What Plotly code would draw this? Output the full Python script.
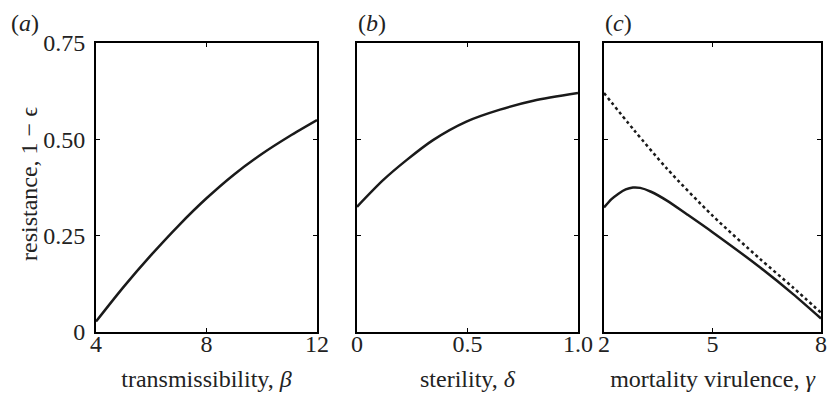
import plotly.graph_objects as go

# Panel (a): resistance vs transmissibility
beta = [4, 5, 6, 7, 8, 9, 10, 11, 12]
res_beta = [0.027, 0.117, 0.200, 0.277, 0.347, 0.409, 0.462, 0.508, 0.550]

# Panel (b): resistance vs sterility
delta = [0.0, 0.118, 0.224, 0.344, 0.495, 0.647, 0.798, 1.0]
res_delta = [0.325, 0.394, 0.446, 0.498, 0.546, 0.577, 0.600, 0.620]

# Panel (c): resistance vs mortality virulence
gamma = [2.0, 2.2, 2.4, 2.6, 2.8, 3.0, 3.3, 3.74, 4.3, 5.0, 6.31, 7.22, 8.0]
res_gamma = [0.323, 0.344, 0.359, 0.370, 0.375, 0.374, 0.364, 0.341, 0.305, 0.259, 0.168, 0.099, 0.035]
gamma_dot = [2.0, 2.83, 3.74, 5.0, 6.31, 7.22, 8.0]
res_gamma_dot = [0.620, 0.524, 0.424, 0.302, 0.190, 0.116, 0.050]

y_ticks = [0, 0.25, 0.5, 0.75]
y_tick_labels = ["0", "0.25", "0.50", "0.75"]
xa_ticks = [4, 8, 12]
xb_ticks = [0, 0.5, 1.0]
xb_tick_labels = ["0", "0.5", "1.0"]
xc_ticks = [2, 5, 8]

FONT = "Liberation Serif"
FS = 24
TXT = "#222"
W, H = 829, 396

fig = go.Figure()
line = dict(color="#1a1a1a", width=2.5, shape="spline", smoothing=0.8)
fig.add_trace(go.Scatter(x=beta, y=res_beta, mode="lines", line=line, xaxis="x", yaxis="y"))
fig.add_trace(go.Scatter(x=delta, y=res_delta, mode="lines", line=line, xaxis="x2", yaxis="y2"))
fig.add_trace(go.Scatter(x=gamma_dot, y=res_gamma_dot, mode="lines",
                         line=dict(color="#1a1a1a", width=2.5, dash="dot", shape="spline", smoothing=0.8),
                         xaxis="x3", yaxis="y3"))
fig.add_trace(go.Scatter(x=gamma, y=res_gamma, mode="lines", line=line, xaxis="x3", yaxis="y3"))

ydom = [(H - 332) / H, (H - 43) / H]
xdoms = [[96 / W, 317 / W], [357 / W, 578 / W], [604 / W, 821 / W]]

axis_common = dict(showline=True, linecolor="black", linewidth=2, mirror="ticks",
                   ticks="inside", ticklen=4, tickwidth=1, tickcolor="black",
                   showgrid=False, zeroline=False, automargin=False,
                   tickfont=dict(family=FONT, size=FS, color=TXT))

xtitles = ["transmissibility, <i>β</i>", "sterility, <i>δ</i>", "mortality virulence, <i>γ</i>"]
xranges = [[4, 12], [0, 1], [2, 8]]
xtickvals = [xa_ticks, xb_ticks, xc_ticks]
xticktext = [[str(v) for v in xa_ticks], xb_tick_labels, [str(v) for v in xc_ticks]]

layout = dict(width=W, height=H, margin=dict(l=0, r=0, t=0, b=0, autoexpand=False),
              paper_bgcolor="white", plot_bgcolor="white", showlegend=False,
              font=dict(family=FONT, color=TXT))
for i in range(3):
    s = "" if i == 0 else str(i + 1)
    layout["xaxis" + s] = dict(axis_common, domain=xdoms[i], range=xranges[i],
                               tickvals=xtickvals[i], ticktext=xticktext[i],
                               anchor="y" + s, ticklabelstandoff=-11, ticklabeloverflow="allow",
                               title=dict(text=xtitles[i], font=dict(family=FONT, size=FS, color=TXT),
                                          standoff=14))
    layout["yaxis" + s] = dict(axis_common, domain=ydom, range=[0, 0.75],
                               tickvals=y_ticks, ticktext=y_tick_labels if i == 0 else [""] * 4,
                               showticklabels=(i == 0), anchor="x" + s, ticklabelstandoff=4)

fig.update_layout(**layout)

annotations = [
    dict(text="(<i>a</i>)", x=9 / W, y=(H - 23) / H),
    dict(text="(<i>b</i>)", x=356 / W, y=(H - 23) / H),
    dict(text="(<i>c</i>)", x=603 / W, y=(H - 23) / H),
]
for a in annotations:
    fig.add_annotation(xref="paper", yref="paper", xanchor="left", yanchor="middle",
                       showarrow=False, font=dict(family=FONT, size=FS, color=TXT), **a)
fig.add_annotation(xref="paper", yref="paper", x=29 / W, y=(H - 184) / H, text="resistance, 1 − ϵ",
                   textangle=-90, showarrow=False, xanchor="center", yanchor="middle",
                   font=dict(family=FONT, size=FS, color=TXT))

fig.write_html("out.html", config={"displayModeBar": False},
               post_script="document.body.style.margin='0';document.body.style.overflow='hidden';")
